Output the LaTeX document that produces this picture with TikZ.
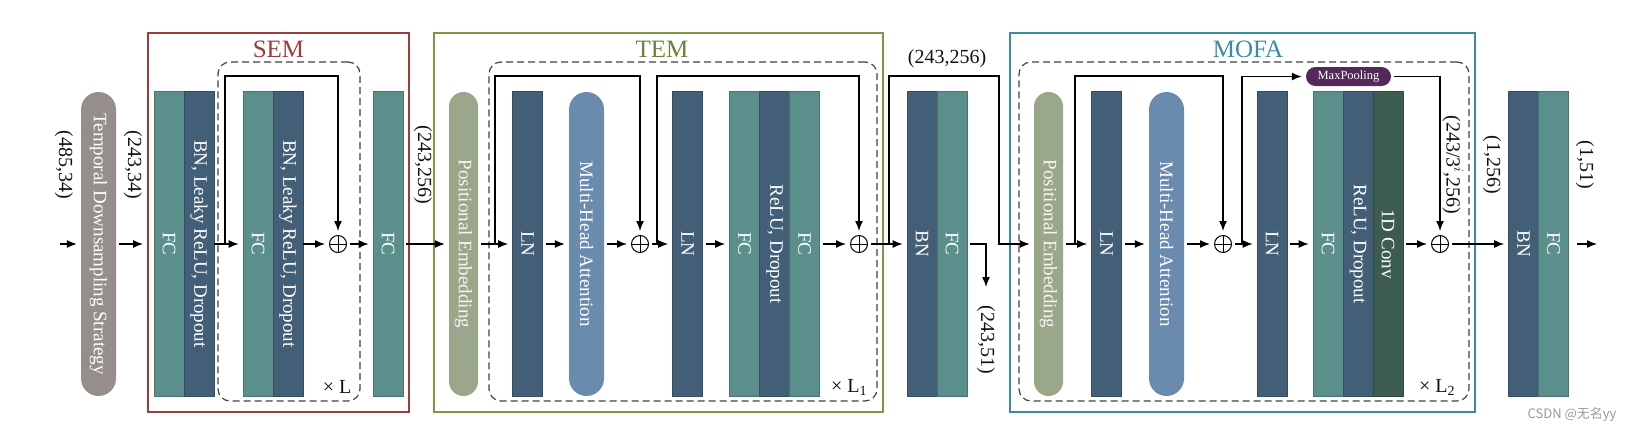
\documentclass[tikz,border=0pt]{standalone}
\usepackage{fontspec}
\setmainfont{Liberation Serif}
\newfontfamily\cjkfont{Noto Sans CJK SC}
\usepackage{graphicx}
\usetikzlibrary{arrows.meta}
\definecolor{ink}{HTML}{111111}
\definecolor{fcteal}{HTML}{5B8F8C}
\definecolor{bnblue}{HTML}{435F78}
\definecolor{mhablue}{HTML}{6A8AAE}
\definecolor{pegreen}{HTML}{9AA78B}
\definecolor{tdsgray}{HTML}{958E8B}
\definecolor{convgreen}{HTML}{3D5C50}
\definecolor{poolpurple}{HTML}{55285C}
\definecolor{semred}{HTML}{9B3D3A}
\definecolor{temgreen}{HTML}{7B9A45}
\definecolor{mofablue}{HTML}{3C8CA0}
\newcommand{\vtext}[1]{\rotatebox{-90}{#1}}

\begin{document}
\begin{tikzpicture}[x=1pt,y=-1pt,font=\fontsize{19}{22}\selectfont,text=ink,
  layer/.style={fill=#1,draw=#1!80!black,line width=0.6pt,minimum width=30pt,
    minimum height=305pt,inner sep=0pt,text=white},
  pill/.style={fill=#1,minimum width=35pt,minimum height=304pt,
    rounded corners=17.5pt,inner sep=0pt,text=white},
  frame/.style={draw=#1,line width=1.8pt,inner sep=0pt},
  stack/.style={draw=black!75,dash pattern=on 7pt off 4pt,line width=1.2pt,
    rounded corners=12pt,inner sep=0pt},
  title/.style={text=#1,font=\fontsize{25}{30}\selectfont},
  dim/.style={rotate=-90,font=\fontsize{20}{24}\selectfont},
  rep/.style={font=\fontsize{20}{24}\selectfont},
  add/.style={circle,draw,line width=1pt,minimum size=17pt,inner sep=0pt,
    path picture={\draw[line width=1pt]
      (path picture bounding box.north) -- (path picture bounding box.south)
      (path picture bounding box.west) -- (path picture bounding box.east);}},
  flow/.style={-{Latex[length=10pt,width=8pt]},line width=1.4pt,
    shorten >=4pt,shorten <=3pt}]
  \useasboundingbox (0,0) rectangle (1633,432);

  % module frames
  \node[frame=semred,minimum width=261pt,minimum height=379pt] (sem) at (278.5,222.5) {};
  \node[frame=temgreen,minimum width=449pt,minimum height=379pt] (tem) at (658.5,222.5) {};
  \node[frame=mofablue,minimum width=465pt,minimum height=379pt] (mofa) at (1242.5,222.5) {};
  \node[title=semred] (semlbl) at (278.5,49) {SEM};
  \node[title=temgreen!85!black] (temlbl) at (662,49) {TEM};
  \node[title=mofablue] (mofalbl) at (1248,49) {MOFA};

  % repeated parts
  \node[stack,minimum width=142pt,minimum height=339pt] (semrep) at (289,231.5) {};
  \node[stack,minimum width=388pt,minimum height=339pt] (temrep) at (683,231.5) {};
  \node[stack,minimum width=450pt,minimum height=339pt] (mofarep) at (1244,231.5) {};
  \node[rep] (semx) at (337,387) {× L};
  \node[rep] (temx) at (849,387) {× L\textsubscript{1}};
  \node[rep] (mofax) at (1437,387) {× L\textsubscript{2}};

  % layers
  \node[pill=tdsgray] (tds) at (98.5,244) {\vtext{Temporal Downsampling Strategy}};

  \node[layer=fcteal] (fca) at (169,244) {\vtext{FC}};
  \node[layer=bnblue] (bna) at (199,244) {\vtext{BN, Leaky ReLU, Dropout}};
  \node[layer=fcteal] (fcb) at (258,244) {\vtext{FC}};
  \node[layer=bnblue] (bnb) at (288,244) {\vtext{BN, Leaky ReLU, Dropout}};
  \node[add] (adda) at (338,244) {};
  \node[layer=fcteal] (fcc) at (388,244) {\vtext{FC}};

  \node[pill=pegreen,minimum width=29pt,rounded corners=14.5pt,text=white!90!pegreen]
    (pea) at (463.5,244) {\vtext{Positional Embedding}};
  \node[layer=bnblue] (lna) at (527.5,244) {\vtext{LN}};
  \node[pill=mhablue] (mhaa) at (586.5,244) {\vtext{Multi-Head Attention}};
  \node[add] (addb) at (640,244) {};
  \node[layer=bnblue] (lnb) at (687.5,244) {\vtext{LN}};
  \node[layer=fcteal] (fcd) at (744.5,244) {\vtext{FC}};
  \node[layer=bnblue] (rda) at (774.5,244) {\vtext{ReLU, Dropout}};
  \node[layer=fcteal] (fce) at (804.5,244) {\vtext{FC}};
  \node[add] (addc) at (859,244) {};

  \node[layer=bnblue] (bnc) at (922,244) {\vtext{BN}};
  \node[layer=fcteal] (fcf) at (952,244) {\vtext{FC}};

  \node[pill=pegreen,minimum width=29pt,rounded corners=14.5pt,text=white!90!pegreen]
    (peb) at (1048.5,244) {\vtext{Positional Embedding}};
  \node[layer=bnblue] (lnc) at (1106.5,244) {\vtext{LN}};
  \node[pill=mhablue] (mhab) at (1166.5,244) {\vtext{Multi-Head Attention}};
  \node[add] (addd) at (1223,244) {};
  \node[layer=bnblue] (lnd) at (1272,244) {\vtext{LN}};
  \node[layer=fcteal] (fcg) at (1328,244) {\vtext{FC}};
  \node[layer=bnblue] (rdb) at (1358,244) {\vtext{ReLU, Dropout}};
  \node[layer=convgreen] (conv) at (1388,244) {\vtext{1D Conv}};
  \node[fill=poolpurple,text=white,minimum width=85pt,minimum height=19pt,
    rounded corners=9.5pt,inner sep=0pt,font=\fontsize{12.5}{14}\selectfont]
    (pool) at (1348.5,76.5) {MaxPooling};
  \node[add] (adde) at (1440,244) {};

  \node[layer=bnblue] (bnd) at (1523.5,244) {\vtext{BN}};
  \node[layer=fcteal] (fch) at (1553.5,244) {\vtext{FC}};

  % shapes
  \node[dim] (dtds) at (64,165) {(485,34)};
  \node[dim] (dsem) at (133,165) {(243,34)};
  \node[dim] (dtem) at (423,165) {(243,256)};
  \node[font=\fontsize{20}{24}\selectfont] (dskip) at (947,59) {(243,256)};
  \node[dim] (dsel) at (986,340) {(243,51)};
  \node[dim] (dpool) at (1453,165) {(243/3$^i$,256)};
  \node[dim] (dmofa) at (1492,165) {(1,256)};
  \node[dim] (dout) at (1585,165) {(1,51)};

  % connectors
  \coordinate (in) at (60,244);
  \coordinate (out) at (1597,244);
  \coordinate (sela) at (986,287);
  \coordinate (sa) at (225,244);
  \coordinate (sb) at (495,244);
  \coordinate (sc) at (657,244);
  \coordinate (sd) at (889,244);
  \coordinate (se) at (999,244);
  \coordinate (sf) at (1075,244);
  \coordinate (sg) at (1242,244);

  \draw[flow,shorten <=0pt] (in) -- (tds.west);
  \draw[flow] (tds.east) -- (tds.east -| sem.west);
  \draw[flow,shorten <=0pt] (bna.east) -- (fcb.west);
  \draw[flow,shorten <=0pt] (sa) -- ++(0,-168) -| (adda.north);
  \draw[flow,shorten <=0pt] (bnb.east) -- (adda.west);
  \draw[flow] (adda.east) -- (fcc.west);
  \draw[flow] (fcc.east) -- (pea.west);

  \draw[flow] (pea.east) -- (lna.west);
  \draw[flow,shorten <=0pt] (sb) -- ++(0,-168) -| (addb.north);
  \draw[flow] (lna.east) -- (mhaa.west);
  \draw[flow] (mhaa.east) -- (addb.west);
  \draw[flow] (addb.east) -- (lnb.west);
  \draw[flow,shorten <=0pt] (sc) -- ++(0,-168) -| (addc.north);
  \draw[flow] (lnb.east) -- (fcd.west);
  \draw[flow] (fce.east) -- (addc.west);
  \draw[flow] (addc.east) -- (bnc.west);

  \draw[flow,shorten >=0pt] (fcf.east) -| (sela);
  \draw[flow,shorten <=0pt] (sd) -- ++(0,-168) -| (se) -- (peb.west);

  \draw[flow] (peb.east) -- (lnc.west);
  \draw[flow,shorten <=0pt] (sf) -- ++(0,-168) -| (addd.north);
  \draw[flow] (lnc.east) -- (mhab.west);
  \draw[flow] (mhab.east) -- (addd.west);
  \draw[flow] (addd.east) -- (lnd.west);
  \draw[flow,shorten <=0pt] (sg) |- (pool.west);
  \draw[flow] (pool.east) -| (adde.north);
  \draw[flow] (lnd.east) -- (fcg.west);
  \draw[flow] (conv.east) -- (adde.west);
  \draw[flow] (adde.east) -- (bnd.west);
  \draw[flow,shorten >=0pt,shorten <=8pt] (fch.east) -- (out);

  \node[font=\cjkfont\fontsize{13}{15}\selectfont,text=black!40] (mark) at (1572,415)
    {CSDN @无名yy};
\end{tikzpicture}
\end{document}
